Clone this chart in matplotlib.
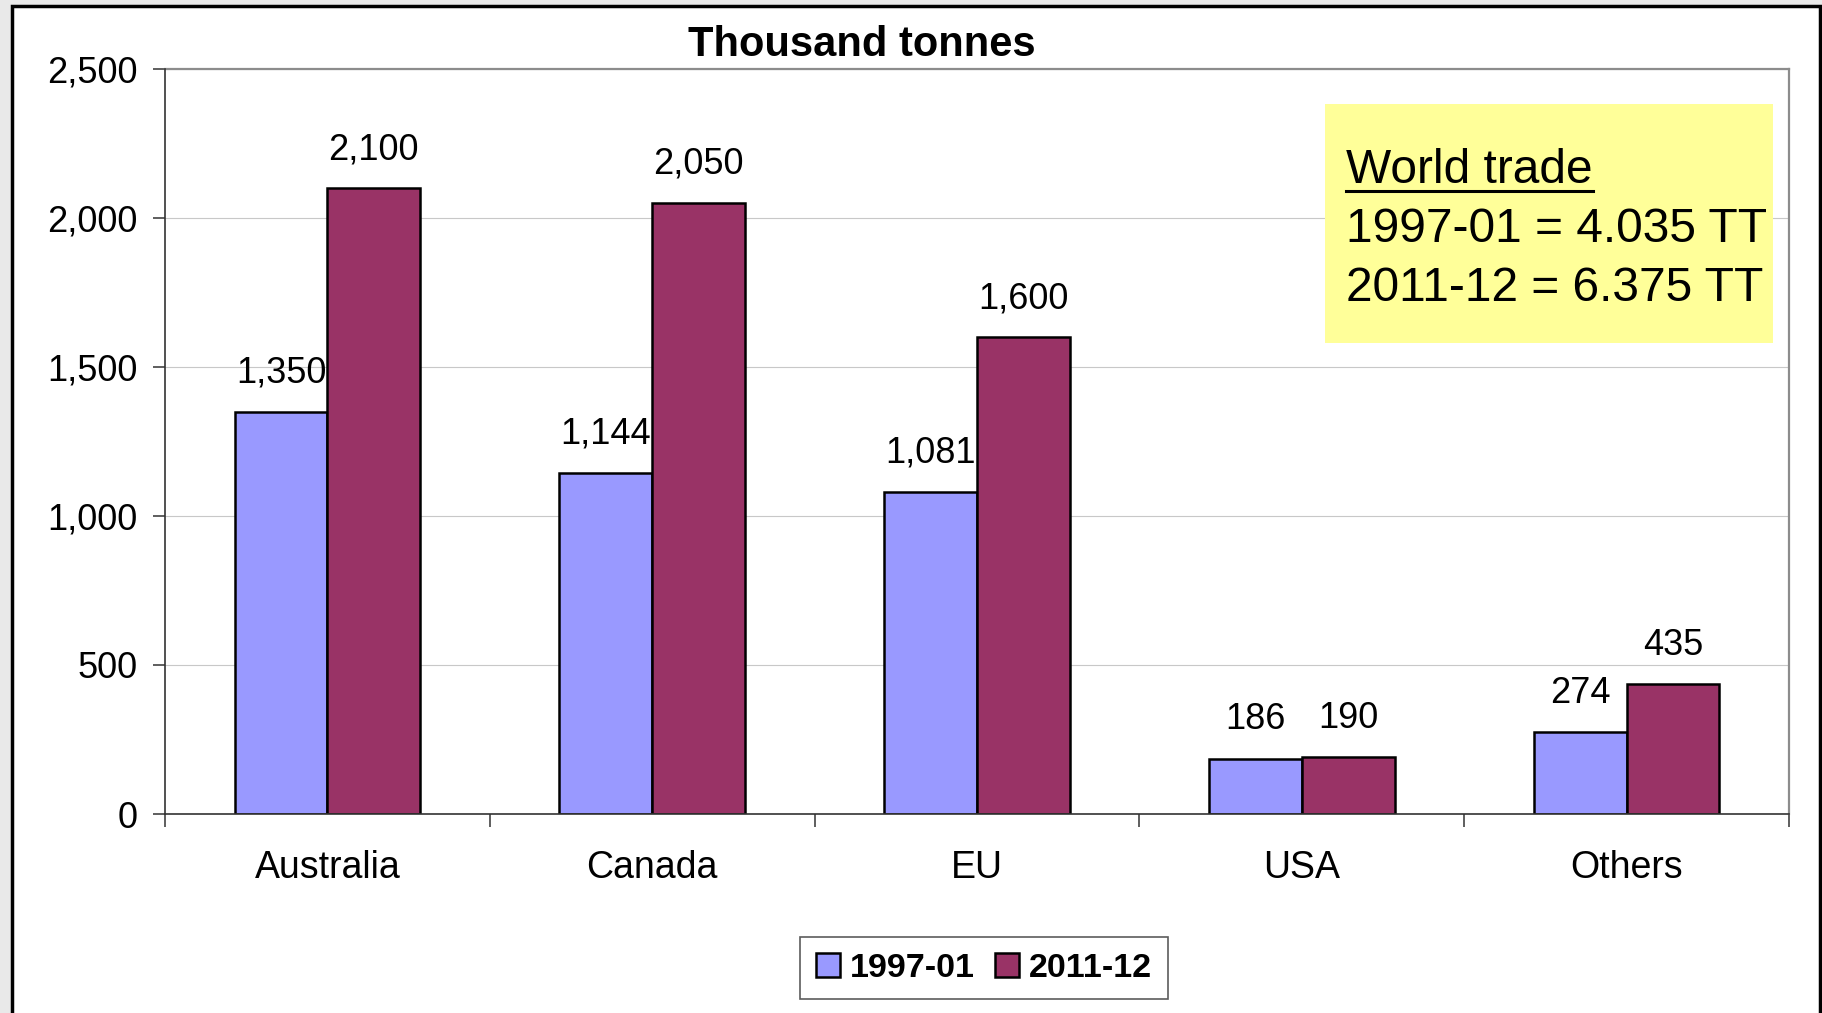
import numpy as np
import matplotlib
matplotlib.use("Agg")
import matplotlib.pyplot as plt
from matplotlib.patches import Rectangle
from matplotlib.lines import Line2D

plt.rcParams['font.family'] = ['Liberation Sans', 'DejaVu Sans']

# data
regions = ['Australia', 'Canada', 'EU', 'USA', 'Others']
trade_9701 = [1350, 1144, 1081, 186, 274]
trade_1112 = [2100, 2050, 1600, 190, 435]
series_names = ['1997-01', '2011-12']
box_lines = ['World trade', '1997-01 = 4.035 TT', '2011-12 = 6.375 TT']

W, H = 1822, 1013
fig = plt.figure(figsize=(W / 100, H / 100), dpi=100, facecolor='#e9e9e9')

# white page with black frame
fig.patches.append(Rectangle((12 / W, -0.05), (1820 - 12) / W, 1.05 - 6 / H,
                             transform=fig.transFigure, facecolor='white',
                             edgecolor='black', linewidth=2.5, zorder=-5))

ax = fig.add_axes([165 / W, 1 - 814 / H, (1789 - 165) / W, (814 - 69) / H])
ax.set_facecolor('none')

x = np.arange(len(regions))
w = 0.286
b1 = ax.bar(x - w / 2, trade_9701, w, color='#9999FF', edgecolor='black', linewidth=1.8, zorder=3)
b2 = ax.bar(x + w / 2, trade_1112, w, color='#993366', edgecolor='black', linewidth=1.8, zorder=3)

for bars, vals in ((b1, trade_9701), (b2, trade_1112)):
    for r, v in zip(bars, vals):
        ax.annotate(f'{v:,}', (r.get_x() + r.get_width() / 2, v), xytext=(0, 21),
                    textcoords='offset points', ha='center', va='baseline', fontsize=26)

ax.set_xlim(-0.5, len(regions) - 0.5)
ax.set_ylim(0, 2500)
ax.set_yticks(np.arange(0, 2501, 500))
ax.set_yticklabels([f'{v:,}' for v in range(0, 2501, 500)])
ax.set_xticks(np.arange(-0.5, len(regions), 1.0))
ax.set_xticklabels([])
ax.set_xticks(x, minor=True)
ax.set_xticklabels(regions, minor=True)
ax.tick_params(axis='x', which='minor', length=0, pad=26, labelsize=27)
ax.tick_params(axis='x', which='major', length=9, width=1.1, color='#333333')
ax.tick_params(axis='y', length=9, width=1.1, color='#333333', pad=11, labelsize=26)

ax.grid(axis='y', color='#c8c8c8', linewidth=0.8, zorder=0)
ax.set_axisbelow(True)
for s in ('left', 'bottom'):
    ax.spines[s].set_color('#333333')
    ax.spines[s].set_linewidth(1.2)
    ax.spines[s].set_zorder(4)
for s in ('top', 'right'):
    ax.spines[s].set_color('#8c8c8c')
    ax.spines[s].set_linewidth(1.6)

fig.text(862 / W, 1 - 45 / H, 'Thousand tonnes', ha='center', va='center',
         fontsize=30, fontweight='bold')

# yellow annotation box
fig.patches.append(Rectangle((1325 / W, 1 - 343 / H), (1773 - 1325) / W, (343 - 104) / H,
                             transform=fig.transFigure, facecolor='#FFFF99',
                             edgecolor='none', zorder=5))
baselines = [183, 242, 301]
texts = []
for s, yb in zip(box_lines, baselines):
    texts.append(fig.text(1346 / W, 1 - yb / H, s, ha='left', va='baseline',
                          fontsize=34.5, zorder=6))
fig.canvas.draw()
bb = texts[0].get_window_extent()
fig.lines.append(Line2D([bb.x0 / W, bb.x1 / W], [1 - 191 / H, 1 - 191 / H],
                        transform=fig.transFigure, color='black', linewidth=2.2, zorder=6))

leg = fig.legend([b1, b2], series_names, loc='center', bbox_to_anchor=(984 / W, 1 - 968 / H),
                 ncol=2, frameon=True, fancybox=False, edgecolor='#333333',
                 prop={'size': 24.5, 'weight': 'bold'}, handlelength=0.7, handleheight=0.7,
                 handletextpad=0.3, columnspacing=0.6, borderpad=0.45, borderaxespad=0)
leg.get_frame().set_linewidth(1.2)

fig.savefig('out.png', dpi=100, facecolor=fig.get_facecolor())
